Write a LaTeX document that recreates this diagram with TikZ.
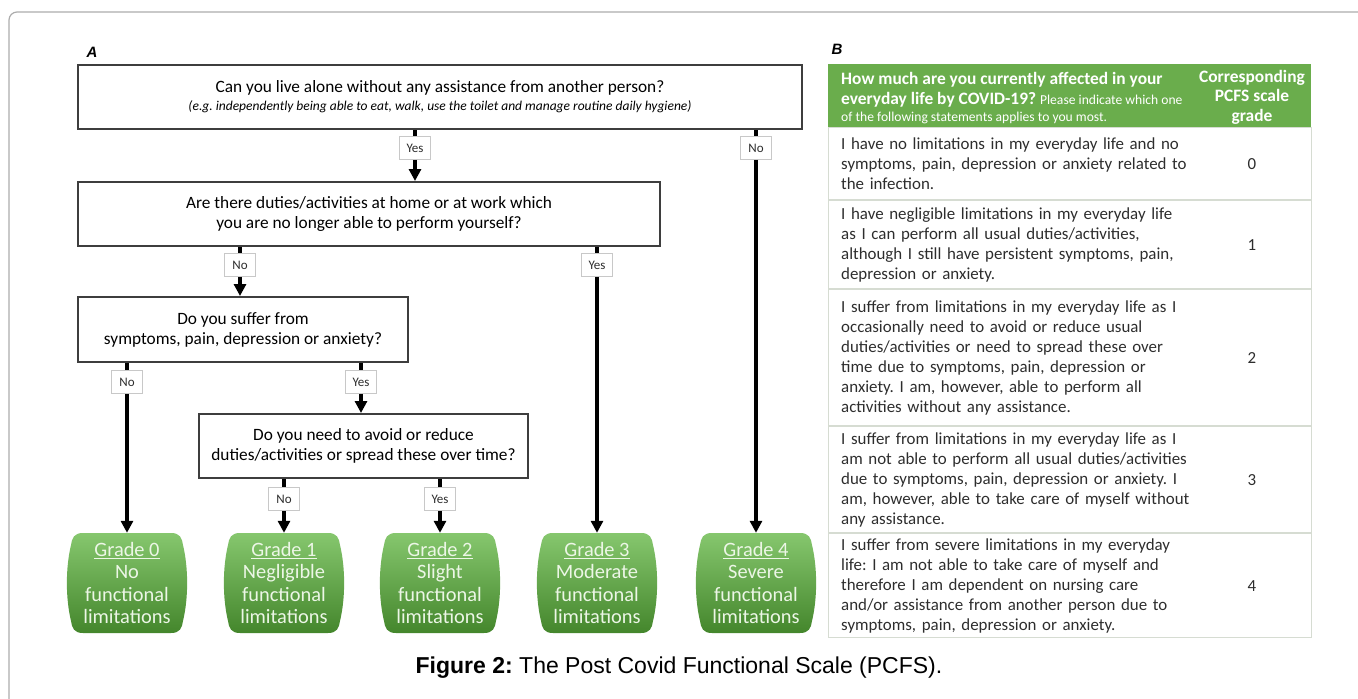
\documentclass[tikz,border=0pt]{standalone}
\usepackage{fontspec}
\setmainfont{Carlito}
\newfontfamily\capfont{Liberation Sans}
\usepackage{tikz}
\usetikzlibrary{arrows.meta,positioning,backgrounds}
\definecolor{pcfsgreen}{RGB}{106,173,76}
\definecolor{gradetop}{RGB}{134,199,110}
\definecolor{gradebot}{RGB}{68,134,44}
\definecolor{gradetext}{RGB}{236,246,230}
\definecolor{cellline}{RGB}{214,220,210}
\definecolor{boxline}{RGB}{62,62,62}
\definecolor{labelline}{RGB}{200,200,200}
\definecolor{framegray}{RGB}{172,172,172}
\definecolor{bodytext}{RGB}{45,45,45}
\tikzset
{
    question/.style = {rectangle, draw=boxline, line width=2pt, fill=white, align=center, text=black, font=\fontsize{17.3}{20}\selectfont},
    answer/.style   = {rectangle, draw=labelline, line width=0.8pt, fill=white, minimum width=31pt, minimum height=23pt, inner sep=0pt, text=bodytext, font=\fontsize{13}{14}\selectfont},
    grade/.style    = {rectangle, minimum width=120pt, minimum height=100pt, inner sep=0pt, align=center, text=gradetext, font=\fontsize{20.4}{22.4}\selectfont},
    barrel/.pic     = {\shade[top color=gradetop, bottom color=gradebot]
                           (-44pt,50pt) -- (44pt,50pt) .. controls (53pt,50pt) and (55pt,45pt) .. (56pt,38pt)
                           .. controls (61.5pt,15pt) and (61.5pt,-15pt) .. (56pt,-38pt)
                           .. controls (55pt,-45pt) and (53pt,-50pt) .. (44pt,-50pt) -- (-44pt,-50pt)
                           .. controls (-53pt,-50pt) and (-55pt,-45pt) .. (-56pt,-38pt)
                           .. controls (-61.5pt,-15pt) and (-61.5pt,15pt) .. (-56pt,38pt)
                           .. controls (-55pt,45pt) and (-53pt,50pt) .. (-44pt,50pt) -- cycle;},
    link/.style     = {line width=3.5pt, black},
    flow/.style     = {link, -{Triangle[length=12pt, width=12pt]}},
    head/.style     = {rectangle, fill=pcfsgreen, minimum width=483pt, minimum height=63pt, anchor=north west},
    row/.style      = {rectangle, draw=cellline, line width=1pt, text width=457pt, inner xsep=13pt, inner ysep=2pt, align=left, text=bodytext, font=\fontsize{16.9}{20}\selectfont},
    panel/.style    = {font=\capfont\bfseries\itshape\fontsize{15}{18}\selectfont}
}

\begin{document}
\frenchspacing
\begin{tikzpicture}[x=1pt, y=-1pt]
    \useasboundingbox (0,0) rectangle (1358,699);
    \draw[framegray, line width=1.2pt, rounded corners=8pt] (9,720) -- (9,12) -- (1380,12);

    \node[panel] (pa) at (92,52) {A};
    \node[panel] (pb) at (837,49) {B};

    \node[question, minimum width=724pt, minimum height=64pt] (q1) at (440,97)
        {Can you live alone without any assistance from another person?\\[-2pt]
         {\fontsize{13.5}{15}\selectfont\itshape (e.g. independently being able to eat, walk, use the toilet and manage routine daily hygiene)}};
    \node[question, minimum width=582pt, minimum height=64pt] (q2) at (369,214)
        {Are there duties/activities at home or at work which\\you are no longer able to perform yourself?};
    \node[question, minimum width=330pt, minimum height=65pt] (q3) at (243,329.5)
        {Do you suffer from\\symptoms, pain, depression or anxiety?};
    \node[question, minimum width=329pt, minimum height=64pt] (q4) at (363.5,446)
        {Do you need to avoid or reduce\\duties/activities or spread these over time?};

    \node[grade] (g0) at (127,583) {\underline{Grade 0}\\No\\functional\\limitations};
    \node[grade] (g1) at (284,583) {\underline{Grade 1}\\Negligible\\functional\\limitations};
    \node[grade] (g2) at (440,583) {\underline{Grade 2}\\Slight\\functional\\limitations};
    \node[grade] (g3) at (597,583) {\underline{Grade 3}\\Moderate\\functional\\limitations};
    \node[grade] (g4) at (756,583) {\underline{Grade 4}\\Severe\\functional\\limitations};
    \begin{scope}[on background layer]
        \foreach \g in {g0, g1, g2, g3, g4}
            \pic at (\g) {barrel};
    \end{scope}

    \node[answer] (a1y) at (415,148) {Yes};
    \node[answer] (a1n) at (756,148) {No};
    \node[answer] (a2n) at (240,265) {No};
    \node[answer] (a2y) at (597,265) {Yes};
    \node[answer] (a3n) at (127,382) {No};
    \node[answer] (a3y) at (361,382) {Yes};
    \node[answer] (a4n) at (284,499) {No};
    \node[answer] (a4y) at (440,499) {Yes};

    \draw[link] (q1.south -| a1y) -- (a1y.north);
    \draw[flow] (a1y.south) -- (q2.north -| a1y);
    \draw[link] (q1.south -| a1n) -- (a1n.north);
    \draw[flow] (a1n.south) -- (g4.north);
    \draw[link] (q2.south -| a2n) -- (a2n.north);
    \draw[flow] (a2n.south) -- (q3.north -| a2n);
    \draw[link] (q2.south -| a2y) -- (a2y.north);
    \draw[flow] (a2y.south) -- (g3.north);
    \draw[link] (q3.south -| a3n) -- (a3n.north);
    \draw[flow] (a3n.south) -- (g0.north);
    \draw[link] (q3.south -| a3y) -- (a3y.north);
    \draw[flow] (a3y.south) -- (q4.north -| a3y);
    \draw[link] (q4.south -| a4n) -- (a4n.north);
    \draw[flow] (a4n.south) -- (g1.north);
    \draw[link] (q4.south -| a4y) -- (a4y.north);
    \draw[flow] (a4y.south) -- (g2.north);

    \node[head] (hd) at (828,64) {};
    \node[right=13pt of hd.west, yshift=-2pt, inner sep=0pt, align=left, text=white, font=\fontsize{17.4}{20}\selectfont] (hq)
        {\bfseries How much are you currently affected in your\\
         \bfseries everyday life by COVID-19? {\mdseries\fontsize{13.6}{15}\selectfont Please indicate which one}\\[-3pt]
         {\fontsize{13.6}{15}\selectfont of the following statements applies to you most.}};
    \node[inner sep=0pt, align=center, text=white, font=\bfseries\fontsize{17.4}{19.5}\selectfont] (hg) at (1252,97)
        {Corresponding\\PCFS scale\\grade};

    \node[row, minimum height=72pt, below=0pt of hd] (r0)
        {I have no limitations in my everyday life and no\\symptoms, pain, depression or anxiety related to\\the infection.};
    \node[row, minimum height=88pt, below=0pt of r0] (r1)
        {I have negligible limitations in my everyday life\\as I can perform all usual duties/activities,\\although I still have persistent symptoms, pain,\\depression or anxiety.};
    \node[row, minimum height=136pt, below=0pt of r1] (r2)
        {I suffer from limitations in my everyday life as I\\occasionally need to avoid or reduce usual\\duties/activities or need to spread these over\\time due to symptoms, pain, depression or\\anxiety. I am, however, able to perform all\\activities without any assistance.};
    \node[row, minimum height=106pt, below=0pt of r2] (r3)
        {I suffer from limitations in my everyday life as I\\am not able to perform all usual duties/activities\\due to symptoms, pain, depression or anxiety. I\\am, however, able to take care of myself without\\any assistance.};
    \node[row, minimum height=104pt, below=0pt of r3] (r4)
        {I suffer from severe limitations in my everyday\\life: I am not able to take care of myself and\\therefore I am dependent on nursing care\\and/or assistance from another person due to\\symptoms, pain, depression or anxiety.};

    \foreach \r/\g in {r0/0, r1/1, r2/2, r3/3, r4/4}
        \node[text=bodytext, font=\fontsize{16.9}{20}\selectfont] (n\g) at (\r -| hg) {\g};

    \node[font=\capfont\fontsize{23}{26}\selectfont] (cap) at (679,668)
        {\textbf{Figure 2:} The Post Covid Functional Scale (PCFS).};
\end{tikzpicture}
\end{document}
